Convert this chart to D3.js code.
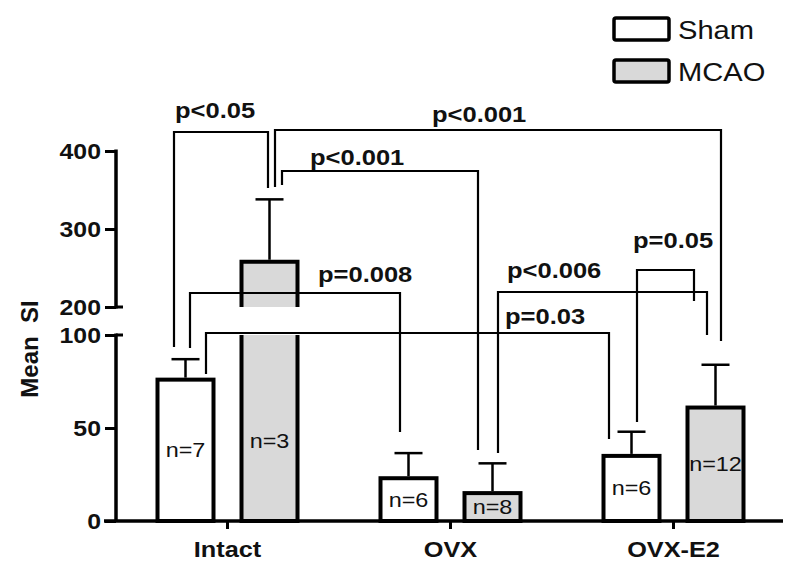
<!DOCTYPE html>
<html>
<head>
<meta charset="utf-8">
<script src="https://cdn.jsdelivr.net/npm/d3@7"></script>
<style>
  html, body { margin: 0; padding: 0; background: #fff; }
  svg { display: block; font-family: "Liberation Sans", Arial, Helvetica, sans-serif; }
</style>
</head>
<body>
<svg id="chart" width="800" height="576"></svg>
<script>
// ---------------- data ----------------
const categories = ["Intact", "OVX", "OVX-E2"];
const series = ["Sham", "MCAO"];
const shamMeans = [76, 23, 35];
const shamErr = [11, 13.5, 13];
const mcaoMeans = [258, 15, 61];
const mcaoErr = [80, 16, 23];
const shamN = ["n=7", "n=6", "n=6"];
const mcaoN = ["n=3", "n=8", "n=12"];
const lowerTicks = [0, 50, 100];
const upperTicks = [200, 300, 400];
const yLabel = "Mean  SI";
const bracketLabels = ["p<0.05", "p<0.001", "p<0.001", "p=0.008", "p=0.03", "p<0.006", "p=0.05"];
const bracketFrom = [["Intact", "Sham"], ["Intact", "MCAO"], ["Intact", "MCAO"], ["Intact", "Sham"], ["Intact", "Sham"], ["OVX", "MCAO"], ["OVX-E2", "Sham"]];
const bracketTo = [["Intact", "MCAO"], ["OVX-E2", "MCAO"], ["OVX", "MCAO"], ["OVX", "Sham"], ["OVX-E2", "Sham"], ["OVX-E2", "MCAO"], ["OVX-E2", "MCAO"]];

// ---------------- layout ----------------
const svg = d3.select("#chart");
const baseY = 521;
const axisX = 116;
const x0 = d3.scaleBand().domain(categories).range([116, 785]).padding(0);
const x1 = d3.scaleBand().domain(series).range([41.5, 181.5]).paddingInner(1 / 3).paddingOuter(0);
const yLow = d3.scaleLinear().domain([0, 100]).range([baseY, 335]);
const yHigh = d3.scaleLinear().domain([200, 400]).range([307, 151]);
const fills = { Sham: "#ffffff", MCAO: "#d9d9d9" };

const rows = [];
categories.forEach((c, i) => {
  rows.push({ cat: c, ser: "Sham", v: shamMeans[i], e: shamErr[i], n: shamN[i] });
  rows.push({ cat: c, ser: "MCAO", v: mcaoMeans[i], e: mcaoErr[i], n: mcaoN[i] });
});
const cx = (cat, ser) => x0(cat) + x1(ser) + x1.bandwidth() / 2;
const yOf = v => v <= 100 ? yLow(v) : yHigh(v);

function stretchText(g, x, y, txt, opts) {
  const t = g.append("g").attr("transform", `translate(${x},${y}) scale(${opts.sx || 1},1)`)
    .append("text")
    .attr("x", 0).attr("y", 0)
    .attr("text-anchor", opts.anchor || "start")
    .attr("font-size", opts.size)
    .attr("font-weight", opts.weight || "bold")
    .attr("fill", "#111")
    .style("white-space", "pre")
    .text(txt);
  if (opts.dy) t.attr("dy", opts.dy);
  return t;
}

// ---------------- bars ----------------
const gBars = svg.append("g");
const bw = x1.bandwidth();
rows.forEach(d => {
  const left = x0(d.cat) + x1(d.ser);
  const right = left + bw;
  if (d.v <= 100) {
    const top = yLow(d.v);
    gBars.append("rect").attr("x", left).attr("y", top).attr("width", bw).attr("height", baseY - top)
      .attr("fill", fills[d.ser]).attr("stroke", "#000").attr("stroke-width", 4);
  } else {
    const lt = yLow(100);
    gBars.append("rect").attr("x", left).attr("y", lt).attr("width", bw).attr("height", baseY - lt)
      .attr("fill", fills[d.ser]);
    gBars.append("path").attr("d", `M${left},${lt}V${baseY}H${right}V${lt}`)
      .attr("fill", "none").attr("stroke", "#000").attr("stroke-width", 4);
    const ut = yHigh(d.v), ub = yHigh(200);
    gBars.append("rect").attr("x", left).attr("y", ut).attr("width", bw).attr("height", ub - ut)
      .attr("fill", fills[d.ser]);
    gBars.append("path").attr("d", `M${left},${ub}V${ut}H${right}V${ub}`)
      .attr("fill", "none").attr("stroke", "#000").attr("stroke-width", 4);
  }
  const c = left + bw / 2;
  const yt = yOf(d.v), ye = yOf(d.v + d.e);
  gBars.append("line").attr("x1", c).attr("x2", c).attr("y1", yt - 2).attr("y2", ye)
    .attr("stroke", "#000").attr("stroke-width", 2.5);
  gBars.append("line").attr("x1", c - 14).attr("x2", c + 14).attr("y1", ye).attr("y2", ye)
    .attr("stroke", "#000").attr("stroke-width", 2.5);
});

// ---------------- axes ----------------
const gAx = svg.append("g");
gAx.append("line").attr("x1", axisX - 12).attr("x2", 783).attr("y1", baseY).attr("y2", baseY)
  .attr("stroke", "#000").attr("stroke-width", 3.5);
categories.forEach(c => {
  const x = x0(c) + x0.bandwidth() / 2;
  gAx.append("line").attr("x1", x).attr("x2", x).attr("y1", baseY).attr("y2", baseY + 8)
    .attr("stroke", "#000").attr("stroke-width", 3);
  stretchText(gAx, x, 557, c, { size: 22, sx: 1.15, anchor: "middle" });
});
const lowAxis = d3.axisLeft(yLow).tickValues(lowerTicks).tickSize(11).tickFormat(d3.format("d"));
const gLow = gAx.append("g").attr("transform", `translate(${axisX},0)`).call(lowAxis);
const upAxis = d3.axisLeft(yHigh).tickValues(upperTicks).tickSize(11).tickFormat(d3.format("d"));
const gUp = gAx.append("g").attr("transform", `translate(${axisX},0)`).call(upAxis);
[gLow, gUp].forEach(g => {
  g.select(".domain").remove();
  g.selectAll(".tick line").attr("stroke", "#000").attr("stroke-width", 3);
  g.selectAll(".tick text").remove();
});
gAx.append("line").attr("x1", axisX).attr("x2", axisX).attr("y1", yLow(100) - 1.5).attr("y2", baseY)
  .attr("stroke", "#000").attr("stroke-width", 3.5);
gAx.append("line").attr("x1", axisX).attr("x2", axisX).attr("y1", yHigh(400) - 1.5).attr("y2", yHigh(200) + 1.5)
  .attr("stroke", "#000").attr("stroke-width", 3.5);
gAx.append("line").attr("x1", axisX).attr("x2", axisX + 7).attr("y1", yLow(100)).attr("y2", yLow(100))
  .attr("stroke", "#000").attr("stroke-width", 3);
gAx.append("line").attr("x1", axisX).attr("x2", axisX + 7).attr("y1", yHigh(200)).attr("y2", yHigh(200))
  .attr("stroke", "#000").attr("stroke-width", 3);
lowerTicks.forEach(t => stretchText(gAx, 101, yLow(t), String(t), { size: 22, sx: 1.13, anchor: "end", dy: "0.36em" }));
upperTicks.forEach(t => stretchText(gAx, 101, yHigh(t), String(t), { size: 22, sx: 1.13, anchor: "end", dy: "0.36em" }));
gAx.append("g").attr("transform", "translate(38,349) rotate(-90)")
  .append("text").attr("text-anchor", "middle").attr("font-size", 24).attr("font-weight", "bold")
  .attr("fill", "#111").style("white-space", "pre").text(yLabel);

// ---------------- n labels ----------------
const gN = svg.append("g");
rows.forEach(d => {
  const top = yLow(Math.min(d.v, 100));
  const cy = d.v > 100 ? 441 : (baseY + top) / 2;
  stretchText(gN, cx(d.cat, d.ser), cy, d.n, { size: 19.5, sx: 1.2, anchor: "middle", weight: "normal", dy: "0.36em" });
});

// ---------------- brackets ----------------
const bracketGeom = [
  { dxL: -11.5, dxR: -1.5, level: 132, endL: 347, endR: 188, tx: 175, ty: 118 },
  { dxL: 5.5, dxR: 5.5, level: 130, endL: 187, endR: 341, tx: 432, ty: 122 },
  { dxL: 12.5, dxR: -14.5, level: 171, endL: 185, endR: 450, tx: 310, ty: 165 },
  { dxL: 4.5, dxR: -8.5, level: 293, endL: 348, endR: 432, tx: 318, ty: 282 },
  { dxL: 20.5, dxR: -22.5, level: 333, endL: 374, endR: 439, tx: 505, ty: 324 },
  { dxL: 5.5, dxR: -8.5, level: 292, endL: 453, endR: 335, tx: 507, ty: 278 },
  { dxL: 5.5, dxR: -21.5, level: 270, endL: 422, endR: 301, tx: 633, ty: 248 }
];
const gBr = svg.append("g");
bracketLabels.forEach((lab, i) => {
  const g = bracketGeom[i];
  const xl = cx(bracketFrom[i][0], bracketFrom[i][1]) + g.dxL;
  const xr = cx(bracketTo[i][0], bracketTo[i][1]) + g.dxR;
  gBr.append("path").attr("d", `M${xl},${g.endL}V${g.level}H${xr}V${g.endR}`)
    .attr("fill", "none").attr("stroke", "#000").attr("stroke-width", 2.2);
  stretchText(gBr, g.tx, g.ty, lab, { size: 22, sx: 1.16 });
});

// ---------------- legend ----------------
const gL = svg.append("g");
series.forEach((s, i) => {
  const y = 18 + i * 42;
  gL.append("rect").attr("x", 614).attr("y", y).attr("width", 55).attr("height", 22).attr("rx", 2)
    .attr("fill", fills[s]).attr("stroke", "#000").attr("stroke-width", 3.5);
  stretchText(gL, 678, y + 21, s, { size: 26, sx: 1.12, weight: "normal" });
});
</script>
</body>
</html>
